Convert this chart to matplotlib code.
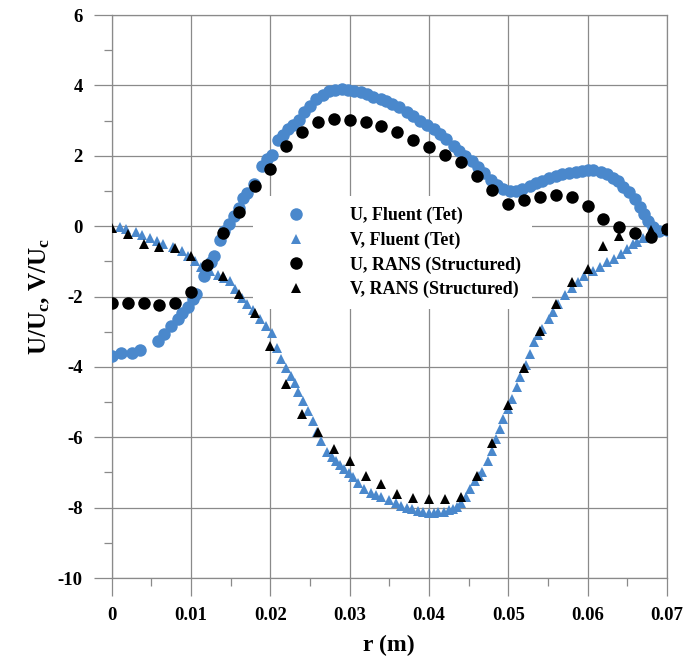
import matplotlib
matplotlib.use("Agg")
import matplotlib.pyplot as plt
from matplotlib.ticker import MultipleLocator, FixedLocator, FixedFormatter

plt.rcParams['font.family'] = ['Liberation Serif', 'DejaVu Serif']
plt.rcParams['font.weight'] = 'bold'
plt.rcParams['axes.unicode_minus'] = False
plt.rcParams['mathtext.fontset'] = 'custom'
plt.rcParams['mathtext.rm'] = 'Liberation Serif:bold'
plt.rcParams['mathtext.it'] = 'Liberation Serif:bold'
plt.rcParams['mathtext.bf'] = 'Liberation Serif:bold'

# ---- data: Fluent (tetrahedral mesh) ----
r_u_fluent = [0.0000, 0.0012, 0.0025, 0.0035, 0.0058, 0.0066, 0.0075, 0.0083, 0.0089,
              0.0096, 0.0102, 0.0106, 0.0116, 0.0125, 0.0129, 0.0137, 0.0141, 0.0148,
              0.0154, 0.0160, 0.0166, 0.0170, 0.0179, 0.0189, 0.0196, 0.0202, 0.0210,
              0.0216, 0.0222, 0.0229, 0.0236, 0.0243, 0.0250, 0.0258, 0.0266, 0.0274,
              0.0282, 0.0290, 0.0298, 0.0306, 0.0314, 0.0322, 0.0330, 0.0339, 0.0346,
              0.0354, 0.0362, 0.0372, 0.0380, 0.0389, 0.0398, 0.0406, 0.0414, 0.0422,
              0.0431, 0.0438, 0.0446, 0.0454, 0.0462, 0.0470, 0.0478, 0.0486, 0.0494,
              0.0502, 0.0510, 0.0518, 0.0527, 0.0535, 0.0543, 0.0552, 0.0560, 0.0568,
              0.0577, 0.0585, 0.0593, 0.0600, 0.0607, 0.0617, 0.0625, 0.0632, 0.0638,
              0.0645, 0.0652, 0.0660, 0.0666, 0.0671, 0.0676, 0.0682, 0.0690, 0.0700]
u_fluent = [-3.68, -3.60, -3.60, -3.52, -3.26, -3.07, -2.84, -2.64, -2.46,
            -2.30, -2.08, -1.94, -1.41, -1.03, -0.84, -0.38, -0.13, 0.05,
            0.29, 0.53, 0.80, 0.95, 1.20, 1.70, 1.90, 2.02, 2.45,
            2.60, 2.75, 2.88, 3.02, 3.25, 3.42, 3.60, 3.74, 3.84,
            3.88, 3.89, 3.87, 3.84, 3.80, 3.75, 3.68, 3.61, 3.55,
            3.48, 3.38, 3.23, 3.12, 3.00, 2.88, 2.76, 2.62, 2.47,
            2.28, 2.14, 2.00, 1.85, 1.67, 1.50, 1.32, 1.17, 1.05,
            1.00, 0.99, 1.05, 1.14, 1.22, 1.29, 1.36, 1.43, 1.48,
            1.52, 1.55, 1.57, 1.60, 1.60, 1.54, 1.47, 1.37, 1.28,
            1.12, 0.98, 0.77, 0.55, 0.34, 0.15, -0.02, -0.15, -0.12]

r_v_fluent = [0.0010, 0.0018, 0.0030, 0.0038, 0.0048, 0.0057, 0.0065, 0.0077, 0.0088,
              0.0096, 0.0105, 0.0113, 0.0124, 0.0134, 0.0142, 0.0149, 0.0155, 0.0164,
              0.0170, 0.0178, 0.0187, 0.0195, 0.0202, 0.0208, 0.0214, 0.0220, 0.0226,
              0.0231, 0.0235, 0.0241, 0.0247, 0.0254, 0.0259, 0.0264, 0.0272, 0.0278,
              0.0283, 0.0288, 0.0293, 0.0299, 0.0304, 0.0311, 0.0318, 0.0327, 0.0333,
              0.0339, 0.0349, 0.0358, 0.0365, 0.0372, 0.0379, 0.0386, 0.0393, 0.0400,
              0.0406, 0.0412, 0.0419, 0.0425, 0.0430, 0.0435, 0.0441, 0.0447, 0.0452,
              0.0458, 0.0463, 0.0467, 0.0474, 0.0479, 0.0484, 0.0490, 0.0494, 0.0500,
              0.0505, 0.0511, 0.0515, 0.0522, 0.0527, 0.0533, 0.0538, 0.0543, 0.0551,
              0.0557, 0.0563, 0.0572, 0.0580, 0.0588, 0.0596, 0.0607, 0.0616, 0.0625,
              0.0633, 0.0642, 0.0650, 0.0657, 0.0663, 0.0670, 0.0680, 0.0690, 0.0700]
v_fluent = [-0.03, -0.08, -0.17, -0.25, -0.33, -0.42, -0.51, -0.60, -0.70,
            -0.84, -1.00, -1.16, -1.27, -1.40, -1.48, -1.55, -1.78, -2.03,
            -2.20, -2.38, -2.64, -2.84, -3.05, -3.45, -3.78, -4.02, -4.25,
            -4.45, -4.72, -4.98, -5.24, -5.53, -5.85, -6.12, -6.42, -6.55,
            -6.67, -6.80, -6.90, -7.02, -7.14, -7.30, -7.46, -7.57, -7.65,
            -7.71, -7.78, -7.88, -7.95, -8.00, -8.05, -8.09, -8.12, -8.15,
            -8.15, -8.13, -8.11, -8.08, -8.04, -7.98, -7.88, -7.70, -7.48,
            -7.24, -7.10, -6.98, -6.67, -6.40, -6.06, -5.77, -5.48, -5.20,
            -4.92, -4.58, -4.30, -3.95, -3.62, -3.30, -3.10, -2.92, -2.64,
            -2.45, -2.22, -1.95, -1.75, -1.60, -1.43, -1.27, -1.15, -1.02,
            -0.92, -0.80, -0.65, -0.52, -0.44, -0.35, -0.25, -0.15, -0.10]

# ---- data: RANS (structured mesh) ----
r_rans = [0.000, 0.002, 0.004, 0.006, 0.008, 0.010, 0.012, 0.014, 0.016, 0.018,
          0.020, 0.022, 0.024, 0.026, 0.028, 0.030, 0.032, 0.034, 0.036, 0.038,
          0.040, 0.042, 0.044, 0.046, 0.048, 0.050, 0.052, 0.054, 0.056, 0.058,
          0.060, 0.062, 0.064, 0.066, 0.068, 0.070]
u_rans = [-2.19, -2.19, -2.19, -2.24, -2.19, -1.87, -1.11, -0.20, 0.39, 1.13,
          1.63, 2.28, 2.68, 2.95, 3.04, 3.02, 2.95, 2.85, 2.68, 2.45,
          2.26, 2.01, 1.83, 1.43, 1.03, 0.62, 0.75, 0.84, 0.88, 0.82,
          0.56, 0.20, -0.01, -0.20, -0.32, -0.09]
v_rans = [-0.04, -0.23, -0.51, -0.58, -0.63, -0.86, -1.07, -1.41, -1.92, -2.48,
          -3.40, -4.49, -5.34, -5.84, -6.32, -6.67, -7.09, -7.32, -7.61, -7.74,
          -7.76, -7.76, -7.71, -7.11, -6.16, -5.09, -4.04, -2.97, -2.22, -1.60,
          -1.22, -0.57, -0.28, -0.18, -0.10, -0.08]

x_ticks = [0, 0.01, 0.02, 0.03, 0.04, 0.05, 0.06, 0.07]
x_tick_labels = ['0', '0.01', '0.02', '0.03', '0.04', '0.05', '0.06', '0.07']
y_ticks = [-10, -8, -6, -4, -2, 0, 2, 4, 6]

blue = '#4a88cc'
grid_col = '#8a8a8a'

fig = plt.figure(figsize=(6.86, 6.68), dpi=100)
ax = fig.add_axes([0.163, 0.1347, 0.809, 0.8428])

ms_c = 9.0
ms_t = 7.8
ax.plot(r_u_fluent, u_fluent, 'o', color=blue, ms=ms_c, mew=0, label='U, Fluent (Tet)', zorder=3)
ax.plot(r_v_fluent, v_fluent, '^', color=blue, ms=ms_t, mew=0, label='V, Fluent (Tet)', zorder=3)
ax.plot(r_rans, u_rans, 'o', color='black', ms=ms_c, mew=0, label='U, RANS (Structured)', zorder=4)
ax.plot(r_rans, v_rans, '^', color='black', ms=ms_t, mew=0, label='V, RANS (Structured)', zorder=4)

ax.set_xlim(0, 0.07)
ax.set_ylim(-10, 6)
ax.xaxis.set_major_locator(FixedLocator(x_ticks))
ax.xaxis.set_major_formatter(FixedFormatter(x_tick_labels))
ax.xaxis.set_minor_locator(MultipleLocator(0.005))
ax.yaxis.set_major_locator(FixedLocator(y_ticks))
ax.yaxis.set_minor_locator(MultipleLocator(1))

ax.grid(True, which='major', color=grid_col, linewidth=0.9, zorder=0)
ax.set_axisbelow(True)
for s in ax.spines.values():
    s.set_color(grid_col)
    s.set_linewidth(0.9)

ax.tick_params(which='major', direction='out', length=13, width=0.9, color=grid_col,
               labelsize=13.5, pad=8)
ax.tick_params(which='minor', direction='out', length=6, width=0.9, color=grid_col)
for lab in ax.get_xticklabels() + ax.get_yticklabels():
    lab.set_fontweight('bold')

ax.set_xlabel('r (m)', fontsize=17, fontweight='bold', labelpad=8)
ax.set_ylabel(r'U/U$_\mathrm{c}$, V/U$_\mathrm{c}$', fontsize=18, fontweight='bold', labelpad=4)

leg = ax.legend(loc='upper left', bbox_to_anchor=(0.255, 0.678), frameon=True,
                fancybox=False, framealpha=1, facecolor='white', edgecolor='none',
                prop={'family': 'Liberation Serif', 'weight': 'bold', 'size': 13},
                borderpad=0.6, handlelength=3.57, handletextpad=1.2, labelspacing=0.4,
                borderaxespad=0)
leg.set_zorder(2)

fig.savefig('out.png', dpi=100, facecolor='white')
